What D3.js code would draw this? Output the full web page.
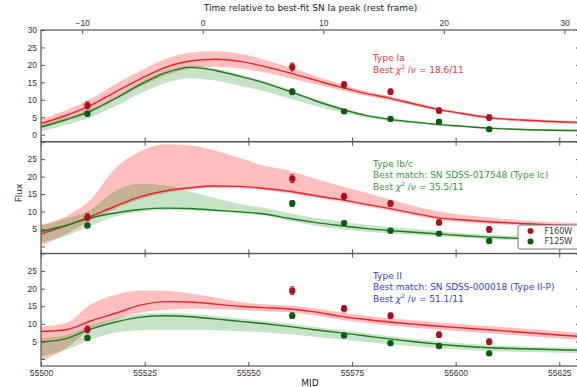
<!DOCTYPE html>
<html>
<head>
<meta charset="utf-8">
<script src="https://cdn.jsdelivr.net/npm/d3@7"></script>
<style>
  body { margin: 0; background: #fff; }
  svg { font-family: "DejaVu Sans", sans-serif; }
  .tick text { fill: #333; font-size: 8.5px; }
  .tick line { stroke: #555; }
</style>
</head>
<body>
<div id="chart"></div>
<script>
// observed photometry
const obsMJD = [55511.2, 55560.6, 55573.1, 55584.3, 55596.0, 55608.1];
const f160Flux = [8.4, 19.4, 14.3, 12.3, 6.9, 4.9];
const f160Err = [1.0, 1.1, 0.9, 0.8, 0.8, 0.8];
const f125Flux = [6.0, 12.3, 6.7, 4.5, 3.7, 1.6];
const f125Err = [0.6, 0.8, 0.5, 0.4, 0.4, 0.4];

// model light curves, sampled on this MJD grid
const mjdGrid = [55500, 55506, 55512, 55518, 55524, 55530, 55536, 55542, 55548, 55554, 55560,
                 55566, 55572, 55578, 55584, 55590, 55596, 55602, 55608, 55616, 55630];

// Type Ia
const iaRed     = [3.2, 5.5, 8.4, 12.3, 16.0, 19.3, 21.1, 21.6, 21.0, 19.5, 17.7, 15.7, 13.7, 11.9, 10.5, 8.8, 7.2, 6.0, 4.9, 4.2, 3.5];
const iaRedLo   = [2.0, 4.1, 6.8, 10.3, 13.8, 17.0, 18.9, 19.5, 19.0, 17.8, 16.2, 14.5, 12.8, 11.2, 9.9, 8.3, 6.8, 5.6, 4.5, 3.8, 3.1];
const iaRedHi   = [4.4, 7.0, 10.2, 14.5, 18.3, 21.7, 23.5, 23.9, 23.2, 21.5, 19.3, 16.9, 14.6, 12.6, 11.1, 9.3, 7.6, 6.4, 5.3, 4.6, 3.9];
const iaGreen   = [2.2, 4.3, 6.8, 10.4, 14.4, 17.7, 19.3, 18.4, 16.7, 14.8, 12.4, 9.8, 7.5, 5.6, 4.4, 3.6, 2.9, 2.4, 1.9, 1.5, 1.2];
const iaGreenLo = [0.9, 2.8, 5.0, 8.2, 11.8, 14.8, 16.2, 15.5, 14.0, 12.4, 10.4, 8.3, 6.5, 5.0, 3.9, 3.2, 2.6, 2.1, 1.7, 1.3, 1.0];
const iaGreenHi = [2.8, 4.9, 7.4, 11.0, 15.0, 18.3, 19.9, 19.0, 17.3, 15.3, 12.9, 10.3, 7.9, 6.0, 4.8, 4.0, 3.2, 2.7, 2.2, 1.8, 1.5];

// Type Ib/c
const ibcRed     = [3.6, 5.9, 8.6, 11.6, 14.3, 15.9, 16.8, 17.3, 17.2, 16.6, 15.8, 14.6, 13.5, 12.2, 10.9, 9.5, 8.2, 7.6, 7.1, 6.6, 5.8];
const ibcRedLo   = [0.2, 3.5, 7.5, 10.8, 13.5, 15.3, 16.3, 16.8, 16.7, 16.1, 15.2, 14.0, 12.9, 11.6, 10.3, 8.9, 7.6, 7.0, 6.5, 6.0, 5.2];
const ibcRedHi   = [6.2, 8.6, 13.5, 22.5, 27.3, 29.3, 28.9, 27.5, 25.3, 23.1, 21.7, 19.5, 17.4, 15.5, 13.5, 11.6, 10.0, 9.0, 8.3, 7.5, 6.6];
const ibcGreen   = [4.3, 6.0, 8.2, 9.6, 10.6, 11.0, 10.9, 10.4, 9.9, 9.3, 8.0, 6.9, 6.0, 5.2, 4.6, 4.1, 3.6, 3.1, 2.7, 2.3, 1.7];
const ibcGreenLo = [1.2, 3.0, 6.0, 8.6, 9.9, 10.5, 10.4, 10.0, 9.5, 8.8, 7.4, 6.0, 5.0, 4.3, 3.8, 3.3, 2.9, 2.5, 2.1, 1.7, 1.2];
const ibcGreenHi = [6.0, 8.0, 10.5, 16.0, 18.0, 17.5, 15.7, 13.8, 12.2, 11.0, 9.5, 8.2, 7.2, 6.3, 5.6, 5.0, 4.4, 3.9, 3.4, 3.0, 2.3];

// Type II
const iiRed     = [7.8, 8.3, 10.8, 13.0, 15.3, 16.3, 16.2, 15.6, 15.0, 14.6, 14.2, 13.4, 12.2, 11.3, 10.5, 9.9, 9.3, 8.8, 8.3, 7.6, 6.4];
const iiRedLo   = [-0.5, 3.0, 8.5, 11.2, 13.2, 14.0, 14.3, 14.2, 13.9, 13.6, 13.2, 12.4, 11.2, 10.3, 9.5, 8.9, 8.3, 7.8, 7.3, 6.6, 5.4];
const iiRedHi   = [9.2, 10.2, 15.5, 18.3, 19.5, 19.4, 18.6, 17.5, 16.2, 15.6, 15.2, 14.4, 13.3, 12.4, 11.6, 11.0, 10.4, 9.9, 9.4, 8.7, 7.5];
const iiGreen   = [4.8, 5.8, 8.5, 10.5, 11.9, 12.3, 12.0, 11.4, 10.7, 10.0, 9.2, 8.3, 7.5, 6.6, 5.7, 4.9, 4.2, 3.6, 3.2, 2.9, 2.5];
const iiGreenLo = [0.7, 2.6, 5.5, 7.5, 8.2, 8.3, 8.3, 8.2, 7.9, 7.6, 7.0, 6.3, 5.6, 4.9, 4.2, 3.6, 3.1, 2.6, 2.3, 2.0, 1.7];
const iiGreenHi = [5.8, 6.8, 9.6, 11.6, 12.8, 13.1, 12.8, 12.2, 11.5, 10.8, 10.0, 9.1, 8.3, 7.4, 6.5, 5.7, 5.0, 4.4, 4.0, 3.6, 3.1];

// axes
const mjdTicks = [55500, 55525, 55550, 55575, 55600, 55625];
const restTicks = [-10, 0, 10, 20, 30];
const fluxTicks = [0, 5, 10, 15, 20, 25, 30];
const peakMJD = 55539.0;   // best-fit Ia peak
const stretch = 2.908;     // 1 + z

const W = 577, H = 387;
const left = 41, right = 580;
const RED = "#e8222a", GREEN = "#1f7a1f";
const RED_PT = "#a8141c", GREEN_PT = "#0f5a14";

var panels = [
    { top: 30, bottom: 141.7, labels: fluxTicks, textY: 61,
      red: iaRed, redLo: iaRedLo, redHi: iaRedHi, green: iaGreen, greenLo: iaGreenLo, greenHi: iaGreenHi,
      color: "#e2393c",
      text: [["Type Ia"], ["Best ", "18.6/11"]] },
    { top: 141.7, bottom: 253.5, labels: [5, 10, 15, 20, 25], textY: 166.5,
      red: ibcRed, redLo: ibcRedLo, redHi: ibcRedHi, green: ibcGreen, greenLo: ibcGreenLo, greenHi: ibcGreenHi,
      color: "#3a943a",
      text: [["Type Ib/c"], ["Best match: SN SDSS-017548 (Type Ic)"], ["Best ", "35.5/11"]] },
    { top: 253.5, bottom: 366, labels: [5, 10, 15, 20, 25], textY: 278.5,
      red: iiRed, redLo: iiRedLo, redHi: iiRedHi, green: iiGreen, greenLo: iiGreenLo, greenHi: iiGreenHi,
      color: "#3b3bd2",
      text: [["Type II"], ["Best match: SN SDSS-000018 (Type II-P)"], ["Best ", "51.1/11"]] }
];

var svg = d3.select("#chart").append("svg")
    .attr("width", W)
    .attr("height", H);

var x = d3.scaleLinear().domain([55500, 55630]).range([left, right]);
var xRest = d3.scaleLinear()
    .domain([(55500 - peakMJD) / stretch, (55630 - peakMJD) / stretch])
    .range([left, right]);

panels.forEach((p, k) => {
    var y = d3.scaleLinear().domain([-2, 30]).range([p.bottom, p.top]);
    var g = svg.append("g").attr("class", "panel");

    g.append("clipPath").attr("id", "clip" + k)
        .append("rect")
        .attr("x", left).attr("y", p.top)
        .attr("width", right - left).attr("height", p.bottom - p.top);

    var plot = g.append("g").attr("clip-path", "url(#clip" + k + ")");

    var band = (lo, hi) => d3.area()
        .x((d, i) => x(mjdGrid[i]))
        .y0((d, i) => y(lo[i]))
        .y1((d, i) => y(hi[i]))
        .curve(d3.curveMonotoneX)(mjdGrid);
    var line = vals => d3.line()
        .x((d, i) => x(mjdGrid[i]))
        .y((d, i) => y(vals[i]))
        .curve(d3.curveMonotoneX)(mjdGrid);

    plot.append("path").attr("d", band(p.redLo, p.redHi))
        .attr("fill", "#ff0000").attr("fill-opacity", 0.25);
    plot.append("path").attr("d", band(p.greenLo, p.greenHi))
        .attr("fill", "#008000").attr("fill-opacity", 0.22);
    plot.append("path").attr("d", line(p.red))
        .attr("fill", "none").attr("stroke", RED).attr("stroke-width", 1.4);
    plot.append("path").attr("d", line(p.green))
        .attr("fill", "none").attr("stroke", GREEN).attr("stroke-width", 1.4);

    // data points with error bars
    [[f160Flux, f160Err, RED_PT], [f125Flux, f125Err, GREEN_PT]].forEach(s => {
        var pts = plot.append("g");
        obsMJD.forEach((m, i) => {
            var cx = x(m), v = s[0][i], e = s[1][i];
            pts.append("line")
                .attr("x1", cx).attr("x2", cx)
                .attr("y1", y(v - e)).attr("y2", y(v + e))
                .attr("stroke", s[2]).attr("stroke-width", 1);
            [v - e, v + e].forEach(c => {
                pts.append("line")
                    .attr("x1", cx - 2).attr("x2", cx + 2)
                    .attr("y1", y(c)).attr("y2", y(c))
                    .attr("stroke", s[2]).attr("stroke-width", 1);
            });
            pts.append("circle").attr("cx", cx).attr("cy", y(v)).attr("r", 3.2)
                .attr("fill", s[2]);
        });
    });

    // y axes, ticks pointing inward
    var yl = g.append("g").attr("transform", "translate(" + left + ",0)")
        .call(d3.axisLeft(y).tickValues(fluxTicks).tickSize(-4).tickPadding(4)
            .tickFormat(d => p.labels.indexOf(d) >= 0 ? d : ""));
    yl.select(".domain").remove();
    var yr = g.append("g").attr("transform", "translate(" + right + ",0)")
        .call(d3.axisRight(y).tickValues(fluxTicks).tickSize(-4).tickFormat(""));
    yr.select(".domain").remove();

    // x ticks on both edges (inward)
    var xb = g.append("g").attr("transform", "translate(0," + p.bottom + ")")
        .call(d3.axisBottom(x).tickValues(mjdTicks).tickSize(-4).tickPadding(4)
            .tickFormat(k == 2 ? d3.format("d") : ""));
    xb.select(".domain").remove();
    if (k > 0) {
        var xt = g.append("g").attr("transform", "translate(0," + p.top + ")")
            .call(d3.axisTop(x).tickValues(mjdTicks).tickSize(-4).tickFormat(""));
        xt.select(".domain").remove();
    }

    g.append("rect")
        .attr("x", left).attr("y", p.top)
        .attr("width", right - left).attr("height", p.bottom - p.top)
        .attr("fill", "none").attr("stroke", "#555").attr("stroke-width", 1.2);

    // annotation
    var tx = 373;
    p.text.forEach((t, j) => {
        var txt = g.append("text")
            .attr("x", tx).attr("y", p.textY + j * 11.7)
            .attr("fill", p.color).style("font-size", "9px");
        if (t.length == 1) {
            txt.text(t[0]);
        } else {
            txt.append("tspan").text(t[0]);
            txt.append("tspan").style("font-style", "italic").text("\u03c7");
            txt.append("tspan").attr("dy", -3.5).style("font-size", "6px").text("2");
            txt.append("tspan").attr("dy", 3.5).text(" /");
            txt.append("tspan").style("font-style", "italic").text("\u03bd");
            txt.append("tspan").text(" = " + t[1]);
        }
    });

    if (k == 1) {
        var lg = g.append("g");
        lg.append("rect")
            .attr("x", 518).attr("y", 225).attr("width", 70).attr("height", 24)
            .attr("rx", 2)
            .attr("fill", "#fff").attr("stroke", "#777").attr("stroke-width", 1);
        [["F160W", RED_PT], ["F125W", GREEN_PT]].forEach((e, j) => {
            lg.append("circle").attr("cx", 530.5).attr("cy", 231 + j * 10.5).attr("r", 3)
                .attr("fill", e[1]);
            lg.append("text").attr("x", 544.5).attr("y", 231 + j * 10.5).attr("dy", "0.35em")
                .attr("fill", "#333").style("font-size", "8px").text(e[0]);
        });
    }
});

// top rest-frame axis
var xr = svg.append("g").attr("transform", "translate(0," + panels[0].top + ")")
    .call(d3.axisTop(xRest).tickValues(restTicks).tickSize(-4).tickPadding(4)
        .tickFormat(d => d < 0 ? "\u2212" + Math.abs(d) : d));
xr.select(".domain").remove();

svg.append("text")
    .attr("x", (left + right) / 2).attr("y", 11)
    .attr("text-anchor", "middle").attr("fill", "#222")
    .style("font-size", "9px")
    .text("Time relative to best-fit SN Ia peak (rest frame)");

svg.append("text")
    .attr("x", 310).attr("y", 386)
    .attr("text-anchor", "middle").attr("fill", "#222")
    .style("font-size", "9px")
    .text("MJD");

svg.append("text")
    .attr("transform", "translate(22,193) rotate(-90)")
    .attr("text-anchor", "middle").attr("fill", "#222")
    .style("font-size", "9px")
    .text("Flux");
</script>
</body>
</html>
